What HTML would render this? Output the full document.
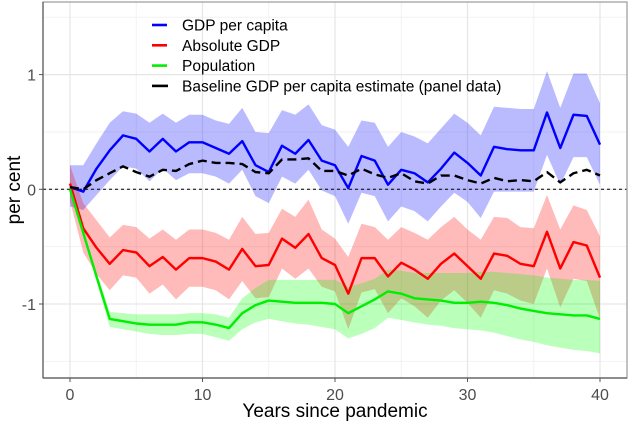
<!DOCTYPE html>
<html><head><meta charset="utf-8"><style>
body{margin:0;background:#fff;}
svg{display:block;font-family:"Liberation Sans",sans-serif;}
</style></head><body>
<svg id="chart" width="629" height="424" viewBox="0 0 629 424" xmlns="http://www.w3.org/2000/svg"></svg>
<script>
const years = Array.from({length:41},(_, i)=>i);
const gdpPc = [0.02,-0.02,0.18,0.34,0.47,0.44,0.33,0.44,0.33,0.41,0.41,0.36,0.31,0.42,0.21,0.15,0.38,0.31,0.43,0.25,0.21,0.01,0.29,0.25,0.04,0.17,0.14,0.06,0.18,0.32,0.23,0.12,0.37,0.35,0.34,0.34,0.67,0.36,0.65,0.64,0.39];
const gdpPcHi = [0.21,0.21,0.40,0.58,0.68,0.66,0.58,0.66,0.58,0.65,0.65,0.60,0.57,0.71,0.50,0.49,0.69,0.65,0.74,0.56,0.52,0.37,0.60,0.58,0.37,0.50,0.46,0.40,0.53,0.66,0.58,0.47,0.72,0.71,0.70,0.70,1.03,0.71,1.01,1.01,0.75];
const gdpPcLo = [-0.15,-0.18,-0.05,0.08,0.20,0.18,0.07,0.18,0.08,0.14,0.14,0.11,0.05,0.17,-0.06,-0.12,0.11,0.05,0.17,-0.01,-0.06,-0.30,-0.03,-0.06,-0.28,-0.15,-0.19,-0.28,-0.15,-0.03,-0.11,-0.25,-0.02,-0.02,-0.02,-0.02,0.30,0.04,0.28,0.28,0.04];
const baseline = [0.02,0.00,0.08,0.14,0.20,0.15,0.11,0.17,0.16,0.22,0.25,0.23,0.23,0.22,0.15,0.14,0.26,0.26,0.27,0.16,0.16,0.12,0.18,0.13,0.10,0.14,0.07,0.05,0.12,0.12,0.08,0.05,0.10,0.07,0.08,0.07,0.15,0.06,0.14,0.17,0.12];
const absGdp = [0.05,-0.34,-0.51,-0.65,-0.53,-0.55,-0.67,-0.59,-0.70,-0.60,-0.60,-0.63,-0.70,-0.52,-0.67,-0.66,-0.43,-0.51,-0.39,-0.60,-0.66,-0.91,-0.60,-0.60,-0.76,-0.64,-0.70,-0.78,-0.65,-0.56,-0.67,-0.78,-0.56,-0.58,-0.65,-0.67,-0.37,-0.69,-0.46,-0.49,-0.77];
const absGdpHi = [0.21,-0.12,-0.27,-0.42,-0.31,-0.33,-0.43,-0.35,-0.44,-0.35,-0.35,-0.38,-0.44,-0.24,-0.39,-0.38,-0.17,-0.24,-0.09,-0.35,-0.43,-0.59,-0.30,-0.33,-0.44,-0.33,-0.38,-0.44,-0.33,-0.24,-0.35,-0.44,-0.24,-0.25,-0.33,-0.34,-0.05,-0.35,-0.14,-0.18,-0.41];
const absGdpLo = [-0.10,-0.55,-0.74,-0.88,-0.75,-0.77,-0.91,-0.83,-0.96,-0.85,-0.85,-0.88,-0.96,-0.80,-0.95,-0.94,-0.69,-0.78,-0.69,-0.85,-0.89,-1.22,-0.90,-0.87,-1.08,-0.95,-1.02,-1.12,-0.97,-0.88,-0.99,-1.12,-0.88,-0.91,-0.97,-1.00,-0.69,-1.03,-0.78,-0.80,-1.13];
const pop = [0.00,-0.38,-0.76,-1.13,-1.15,-1.17,-1.18,-1.18,-1.18,-1.16,-1.16,-1.18,-1.21,-1.08,-1.01,-0.97,-0.98,-0.99,-0.99,-0.99,-1.00,-1.08,-1.02,-0.96,-0.89,-0.91,-0.95,-0.96,-0.97,-0.99,-0.99,-0.98,-0.99,-1.01,-1.04,-1.06,-1.08,-1.09,-1.10,-1.10,-1.13];
const popHi = [0.00,-0.36,-0.72,-1.07,-1.08,-1.09,-1.09,-1.09,-1.09,-1.08,-1.08,-1.09,-1.12,-0.95,-0.86,-0.79,-0.79,-0.79,-0.79,-0.79,-0.79,-0.85,-0.82,-0.78,-0.70,-0.71,-0.73,-0.73,-0.73,-0.73,-0.73,-0.72,-0.72,-0.73,-0.74,-0.75,-0.77,-0.78,-0.79,-0.79,-0.80];
const popLo = [0.00,-0.40,-0.80,-1.20,-1.22,-1.24,-1.26,-1.27,-1.27,-1.26,-1.26,-1.29,-1.32,-1.22,-1.16,-1.13,-1.15,-1.17,-1.18,-1.20,-1.22,-1.30,-1.26,-1.21,-1.12,-1.14,-1.16,-1.18,-1.19,-1.21,-1.22,-1.23,-1.25,-1.28,-1.31,-1.33,-1.36,-1.38,-1.40,-1.41,-1.43];
const yTicks = [-1,0,1];
const yMinor = [-1.5,-0.5,0.5,1.5];
const xTicks = [0,10,20,30,40];
const xMinor = [5,15,25,35];

const L=43,R=627,T=2,B=378;
const X = t => 70 + (t-0)*13.25;
const Y = v => 189.3 - v*114.7;
const svg = document.getElementById('chart');
const NS='http://www.w3.org/2000/svg';
function mk(tag, attrs, parent){const e=document.createElementNS(NS,tag);for(const k in attrs)e.setAttribute(k,attrs[k]);(parent||svg).appendChild(e);return e;}

const grid = mk('g',{});


yMinor.forEach(v=>mk('line',{x1:L,x2:R,y1:Y(v),y2:Y(v),stroke:'#f2f2f2','stroke-width':1},grid));
xMinor.forEach(v=>mk('line',{y1:T,y2:B,x1:X(v),x2:X(v),stroke:'#f2f2f2','stroke-width':1},grid));
yTicks.forEach(v=>mk('line',{x1:L,x2:R,y1:Y(v),y2:Y(v),stroke:'#e6e6e6','stroke-width':1.2},grid));
xTicks.forEach(v=>mk('line',{y1:T,y2:B,x1:X(v),x2:X(v),stroke:'#e6e6e6','stroke-width':1.2},grid));

function band(hi, lo, fill, name){
  let d='M'+years.map(t=>X(t)+','+Y(hi[t])).join('L');
  d+='L'+years.slice().reverse().map(t=>X(t)+','+Y(lo[t])).join('L')+'Z';
  const p=mk('path',{d:d,fill:fill,'fill-opacity':0.27,stroke:'none'});
  
  
}
function line(vals,color,name,dash){
  const p=mk('path',{d:'M'+years.map(t=>X(t)+','+Y(vals[t])).join('L'),fill:'none',stroke:color,'stroke-width':2.4,'stroke-linejoin':'round'});
  if(dash)p.setAttribute('stroke-dasharray',dash);
  
  
}
band(gdpPcHi,gdpPcLo,'#0000ff','gdp-per-capita-band');
band(absGdpHi,absGdpLo,'#ff0000','absolute-gdp-band');
band(popHi,popLo,'#00ff00','population-band');
const zl=mk('line',{x1:L,x2:R,y1:Y(0),y2:Y(0),stroke:'#000','stroke-width':1,'stroke-dasharray':'3,3'});


line(gdpPc,'#0000ff','gdp-per-capita-line');
line(absGdp,'#ff0000','absolute-gdp-line');
line(pop,'#00ee00','population-line');
line(baseline,'#000000','baseline-line','9,5');

const frame=mk('rect',{x:L,y:T,width:R-L,height:B-T,fill:'none',stroke:'#999','stroke-width':1.2});


mk('line',{x1:L,x2:L,y1:T,y2:B,stroke:'#555','stroke-width':1.2});
mk('line',{x1:L,x2:R,y1:B,y2:B,stroke:'#555','stroke-width':1.2});

yTicks.forEach(v=>{
  mk('line',{x1:L-4,x2:L,y1:Y(v),y2:Y(v),stroke:'#555'});
  const t=mk('text',{x:L-7,y:Y(v)+6,'text-anchor':'end','font-size':16,fill:'#4d4d4d'});
  t.textContent=v===-1?'-1':String(v);
  
  
});
xTicks.forEach(v=>{
  mk('line',{x1:X(v),x2:X(v),y1:B,y2:B+4,stroke:'#555'});
  const t=mk('text',{x:X(v),y:B+22,'text-anchor':'middle','font-size':16,fill:'#4d4d4d'});
  t.textContent=String(v);
  
  
});
const xt=mk('text',{x:335,y:417,'text-anchor':'middle','font-size':19,fill:'#000'});
xt.textContent='Years since pandemic';


const yt=mk('text',{x:0,y:0,'text-anchor':'middle','font-size':19,fill:'#000',transform:'translate(20,190) rotate(-90)'});
yt.textContent='per cent';



const legendItems=[['GDP per capita','#0000ff',null],['Absolute GDP','#ff0000',null],['Population','#00ee00',null],['Baseline GDP per capita estimate (panel data)','#000',null]];
legendItems.forEach((it,i)=>{
  const g=mk('g',{});
  
  
  const y=25+i*20.3;
  if(i===3){mk('line',{x1:152,x2:168,y1:y,y2:y,stroke:'#000','stroke-width':2.6},g);}
  else mk('line',{x1:152,x2:167,y1:y,y2:y,stroke:it[1],'stroke-width':2.6},g);
  const t=mk('text',{x:182,y:y+5.5,'font-size':15.5,fill:'#000'},g);
  t.textContent=it[0];
});
</script>
</body></html>
